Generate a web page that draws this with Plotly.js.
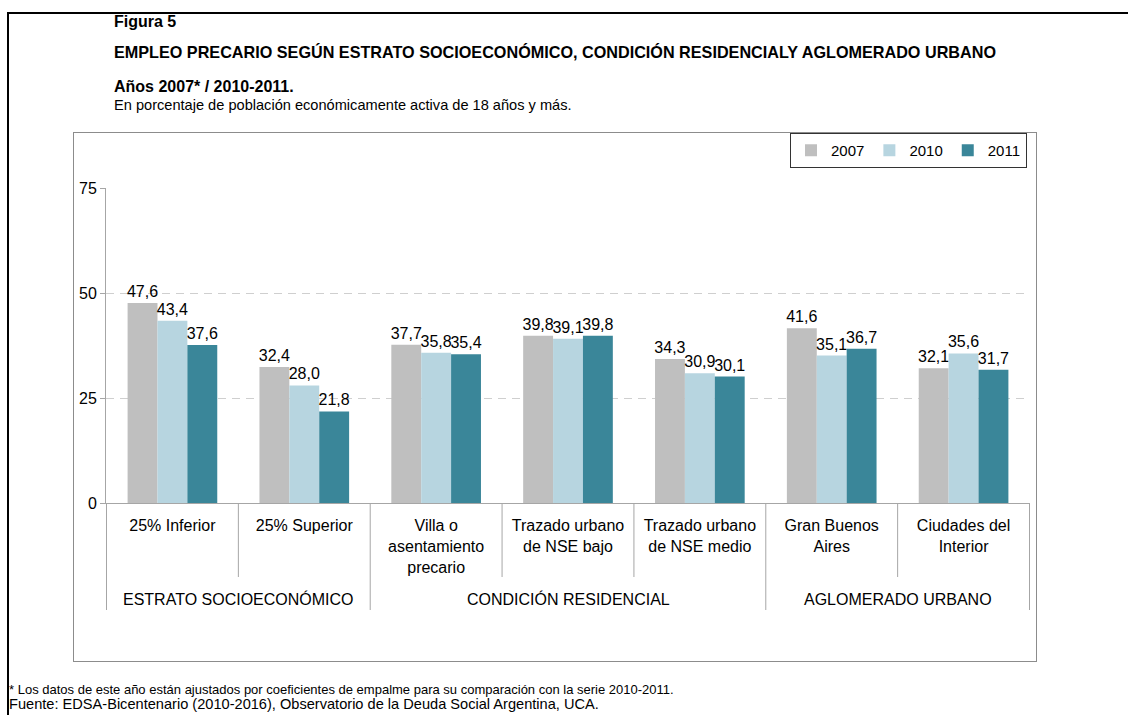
<!DOCTYPE html>
<html>
<head>
<meta charset="utf-8">
<script src="https://cdn.plot.ly/plotly-3.0.1.min.js"></script>
<style>
html, body { margin: 0; padding: 0; background: #fff; overflow: hidden; }
#frame { position: absolute; left: 7px; top: 12px; width: 1130px; height: 720px; border-left: 2px solid #000; border-top: 2px solid #000; }
#box { position: absolute; left: 73px; top: 132px; width: 962px; height: 528px; border: 1px solid #8c8c8c; }
#chart { position: absolute; left: 0; top: 0; width: 1128px; height: 715px; }
</style>
</head>
<body>
<div id="frame"></div>
<div id="box"></div>
<div id="chart"></div>
<script>
// data
var categories = ['25% Inferior', '25% Superior', 'Villa o<br>asentamiento<br>precario',
  'Trazado urbano<br>de NSE bajo', 'Trazado urbano<br>de NSE medio', 'Gran Buenos<br>Aires', 'Ciudades del<br>Interior'];
var years = ['2007', '2010', '2011'];
var values2007 = [47.6, 32.4, 37.7, 39.8, 34.3, 41.6, 32.1];
var values2010 = [43.4, 28.0, 35.8, 39.1, 30.9, 35.1, 35.6];
var values2011 = [37.6, 21.8, 35.4, 39.8, 30.1, 36.7, 31.7];
var groupNames = ['ESTRATO SOCIOECONÓMICO', 'CONDICIÓN RESIDENCIAL', 'AGLOMERADO URBANO'];
var groupSizes = [2, 3, 2];
var yTicks = [0, 25, 50, 75];
var colors = ['#bfbfbf', '#b7d5e0', '#3a8699'];

// ------------------------
// pixel -> paper helpers (plot area 106..1030 x 188..503)
function px(x) { return (x - 106) / 924; }
function py(y) { return (503 - y) / 315; }

var font = 'Liberation Sans, Arial, sans-serif';
var allValues = [values2007, values2010, values2011];

var data = years.map(function (yr, i) {
  return {
    type: 'bar',
    name: yr,
    x: categories,
    y: allValues[i],
    marker: {color: colors[i]},
    texttemplate: '%{y:.1f}',
    textposition: 'outside',
    textfont: {size: 16, color: '#000', family: font},
    constraintext: 'none',
    cliponaxis: false,
    hoverinfo: 'skip'
  };
});

// ------------------------
// separator lines under the x axis
var shapes = [];
var edges = [0];
groupSizes.forEach(function (n) { edges.push(edges[edges.length - 1] + n); });
for (var b = 0; b <= categories.length; b++) {
  var isGroupEdge = edges.indexOf(b) >= 0;
  shapes.push({
    type: 'line', xref: 'x', yref: 'paper',
    x0: b - 0.5, x1: b - 0.5, y0: 0, y1: py(isGroupEdge ? 610 : 577),
    line: {color: '#a6a6a6', width: 1}
  });
}

// ------------------------
// texts
var annotations = [];
var start = 0;
groupNames.forEach(function (g, i) {
  annotations.push({
    text: g, xref: 'x', yref: 'paper',
    x: start + (groupSizes[i] - 1) / 2, y: py(599),
    showarrow: false, xanchor: 'center', yanchor: 'middle',
    font: {size: 16, color: '#000', family: font}
  });
  start += groupSizes[i];
});

function note(text, x, y, size) {
  annotations.push({
    text: text, xref: 'paper', yref: 'paper', x: px(x), y: py(y),
    showarrow: false, xanchor: 'left', yanchor: 'middle',
    font: {size: size, color: '#000', family: font}
  });
}
note('<b>Figura 5</b>', 112, 21, 16);
note('<b>EMPLEO PRECARIO SEGÚN ESTRATO SOCIOECONÓMICO, CONDICIÓN RESIDENCIALY AGLOMERADO URBANO</b>', 112, 52, 16.2);
note('<b>Años 2007* / 2010-2011.</b>', 112, 86, 16);
note('En porcentaje de población económicamente activa de 18 años y más.', 112, 105, 14.6);
note('* Los datos de este año están ajustados por coeficientes de empalme para su comparación con la serie 2010-2011.', 7, 689, 13);
note('Fuente: EDSA-Bicentenario (2010-2016), Observatorio de la Deuda Social Argentina, UCA.', 7, 704, 14.6);

var layout = {
  width: 1128,
  height: 715,
  margin: {l: 106, r: 98, t: 188, b: 212, pad: 0, autoexpand: false},
  paper_bgcolor: 'rgba(0,0,0,0)',
  plot_bgcolor: 'rgba(0,0,0,0)',
  font: {family: font, size: 16, color: '#000'},
  separators: ',.',
  barmode: 'group',
  bargap: 0.32,
  bargroupgap: 0,
  showlegend: true,
  legend: {
    orientation: 'h', x: px(1027), xanchor: 'right', y: py(133), yanchor: 'top',
    bordercolor: '#333', borderwidth: 1, bgcolor: '#fff',
    font: {size: 15, family: font, color: '#000'}, traceorder: 'normal'
  },
  xaxis: {
    type: 'category',
    showline: true, linecolor: '#a6a6a6', linewidth: 1,
    ticks: '', showgrid: false,
    ticklabelstandoff: 8,
    tickfont: {size: 16, family: font, color: '#000'},
    fixedrange: true
  },
  yaxis: {
    range: [0, 75], tickvals: yTicks, ticktext: yTicks.map(String),
    ticks: 'outside', ticklen: 5, tickcolor: '#a6a6a6',
    showline: true, linecolor: '#a6a6a6', linewidth: 1,
    showgrid: true, gridcolor: '#cfcfcf', griddash: '8px,6px',
    zeroline: false,
    tickfont: {size: 16, family: font, color: '#000'},
    fixedrange: true
  },
  shapes: shapes,
  annotations: annotations
};

Plotly.newPlot('chart', data, layout, {displayModeBar: false, staticPlot: true});
</script>
</body>
</html>
